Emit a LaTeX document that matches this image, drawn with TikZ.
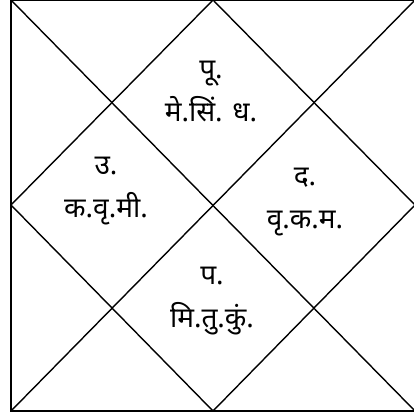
\documentclass[tikz,border=0pt]{standalone}
\usepackage{fontspec}
\newfontfamily\devfont[Script=Devanagari]{Noto Sans}
\usetikzlibrary{positioning}
\tikzset{
  % Outer frame of the chart
  frame/.style={draw, line width=1.8pt},
  % Diagonals and inner diamond
  grid/.style={draw, line width=1.4pt},
  % House text (two lines)
  house/.style={
    align=center, inner sep=0pt, font=\devfont\fontsize{28}{43}\selectfont
  }
}
\begin{document}
\begin{tikzpicture}[x=1pt, y=1pt]
\useasboundingbox (0,0) rectangle (414,417);

% ============================================================
% FRAME AND LINES
% ============================================================
\coordinate (bl) at (11,6);
\coordinate (br) at (415,6);
\coordinate (tl) at (11,417);
\coordinate (tr) at (415,417);
\coordinate (mt) at (213,417);
\coordinate (mb) at (213,6);
\coordinate (ml) at (11,212);
\coordinate (mr) at (415,212);

\draw[frame] (bl) rectangle (tr);
\draw[grid] (bl) -- (tr);
\draw[grid] (tl) -- (br);
\draw[grid] (mt) -- (mr) -- (mb) -- (ml) -- cycle;

% ============================================================
% HOUSES
% ============================================================
\node[house] (h-top)    at (211,326) {पू.\\मे.सिं. ध.};
\node[house] (h-left)   at (106,226) {उ.\\क.वृ.मी.};
\node[house] (h-right)  at (305,215) {द.\\वृ.क.म.};
\node[house] (h-bottom) at (212,116) {प.\\मि.तु.कुं.};

\end{tikzpicture}
\end{document}
